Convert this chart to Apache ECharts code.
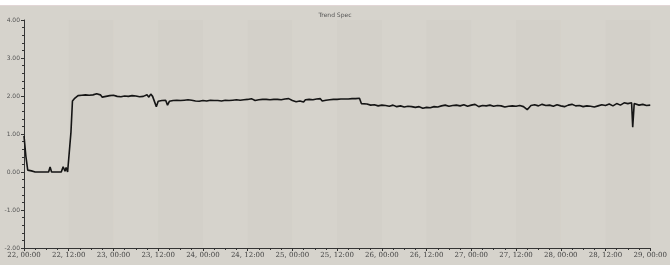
<!DOCTYPE html>
<html>
<head>
<meta charset="utf-8">
<script src="https://cdn.jsdelivr.net/npm/echarts@6/dist/echarts.min.js"></script>
<style>
    html, body {margin: 0; padding: 0; background: #ffffff;}
    #trend {width: 670px; height: 265px;}
</style>
</head>
<body>
<div id="trend"></div>
<script>
// hours counted from 22, 00:00
let DAY0 = 22;
let yTicks = [-2, -1, 0, 1, 2, 3, 4];

// [hour, value]
let trend = [
    [0, 0.95], [0.5, 0.42], [1, 0.05], [2, 0.03], [3, 0.0], [4, 0.0], [5, 0.0], [6, 0.0],
    [6.6, 0.0], [7, 0.13], [7.4, 0.0], [8, 0.0], [9, 0.0], [10, 0.0], [10.5, 0.14],
    [11, 0.02], [11.3, 0.12], [11.7, 0.0], [12, 0.0], [12.3, 0.7], [12.6, 1.05],
    [13, 1.87], [13.5, 1.93], [14, 1.95], [14.5, 2.01], [15, 1.98], [15.5, 2.02], [16, 1.99],
    [16.5, 2.03], [17, 2.0], [17.5, 2.02], [18, 1.99], [18.5, 2.03], [19, 2.02], [19.5, 2.06],
    [20, 2.01], [20.5, 2.03], [21, 1.97], [21.5, 2.02], [22, 1.99], [22.5, 1.95], [23, 2.01],
    [23.5, 2.06], [24, 2.02], [24.5, 2.05], [25, 1.99], [25.5, 2.04], [26, 1.98], [26.5, 2.03],
    [27, 2.0], [27.5, 2.04], [28, 1.99], [28.5, 1.96], [29, 2.01], [29.5, 1.97], [30, 2.0],
    [30.5, 1.95], [31, 1.98], [31.5, 1.94], [32, 1.99], [32.5, 1.95], [33, 2.03], [33.5, 1.97],
    [34, 2.05], [34.5, 1.99], [35, 2.03], [35.5, 1.72], [36, 1.86], [36.5, 1.83], [37, 1.88],
    [37.5, 1.84], [38, 1.89], [38.5, 1.76], [39, 1.86], [39.5, 1.84], [40, 1.88], [40.5, 1.85],
    [41, 1.89], [41.5, 1.86], [42, 1.88], [42.5, 1.85], [43, 1.89], [43.5, 1.87], [44, 1.9],
    [44.5, 1.86], [45, 1.89], [45.5, 1.91], [46, 1.87], [46.5, 1.9], [47, 1.86], [47.5, 1.91],
    [48, 1.88], [48.5, 1.9], [49, 1.87], [49.5, 1.92], [50, 1.89], [50.5, 1.92], [51, 1.88],
    [51.5, 1.91], [52, 1.88], [52.5, 1.92], [53, 1.87], [53.5, 1.91], [54, 1.89], [54.5, 1.93],
    [55, 1.88], [55.5, 1.91], [56, 1.89], [56.5, 1.94], [57, 1.9], [57.5, 1.92], [58, 1.89],
    [58.5, 1.93], [59, 1.9], [59.5, 1.94], [60, 1.91], [60.5, 1.89], [61, 1.93], [61.5, 1.9],
    [62, 1.88], [62.5, 1.92], [63, 1.9], [63.5, 1.94], [64, 1.91], [64.5, 1.95], [65, 1.91],
    [65.5, 1.93], [66, 1.9], [66.5, 1.93], [67, 1.91], [67.5, 1.94], [68, 1.91], [68.5, 1.93],
    [69, 1.9], [69.5, 1.94], [70, 1.92], [70.5, 1.95], [71, 1.93], [71.5, 1.96], [72, 1.88],
    [72.5, 1.91], [73, 1.85], [73.5, 1.9], [74, 1.87], [74.5, 1.92], [75, 1.84], [75.5, 1.9],
    [76, 1.88], [76.5, 1.91], [77, 1.88], [77.5, 1.9], [78, 1.86], [78.5, 1.92], [79, 1.89],
    [79.5, 1.93], [80, 1.87], [80.5, 1.92], [81, 1.89], [81.5, 1.94], [82, 1.9], [82.5, 1.93],
    [83, 1.91], [83.5, 1.95], [84, 1.91], [84.5, 1.94], [85, 1.92], [85.5, 1.95], [86, 1.92],
    [86.5, 1.95], [87, 1.92], [87.5, 1.94], [88, 1.93], [88.5, 1.96], [89, 1.93], [89.5, 1.95],
    [90, 1.94], [90.5, 1.8], [91, 1.77], [92, 1.79], [93, 1.76], [94, 1.77],
    [95, 1.74], [96, 1.76], [97, 1.75], [98, 1.73], [99, 1.76], [100, 1.72], [101, 1.74],
    [102, 1.71], [103, 1.73], [104, 1.72], [105, 1.7], [106, 1.72], [107, 1.68], [108, 1.7],
    [109, 1.69], [110, 1.72], [111, 1.71], [112, 1.74], [113, 1.76], [114, 1.73], [115, 1.75],
    [116, 1.76], [117, 1.74], [118, 1.77], [119, 1.73], [120, 1.76], [121, 1.78], [122, 1.72],
    [123, 1.75], [124, 1.74], [125, 1.76], [126, 1.73], [127, 1.75], [128, 1.74], [129, 1.71],
    [130, 1.73], [131, 1.74], [132, 1.73], [133, 1.75], [134, 1.72], [135, 1.64], [136, 1.75],
    [137, 1.77], [138, 1.74], [139, 1.78], [140, 1.75], [141, 1.76], [142, 1.73], [143, 1.77],
    [144, 1.74], [145, 1.72], [146, 1.76], [147, 1.78], [148, 1.74], [149, 1.75], [150, 1.72],
    [151, 1.74], [152, 1.73], [153, 1.71], [154, 1.74], [155, 1.77], [156, 1.75], [157, 1.79],
    [158, 1.74], [159, 1.8], [160, 1.76], [161, 1.82], [162, 1.8], [163, 1.82], [163.3, 1.18],
    [163.7, 1.8], [164, 1.79], [165, 1.76], [166, 1.78], [167, 1.75], [168, 1.76]
];

function hourLabel(h) {
    let day = DAY0 + Math.floor(h / 24);
    let hr = h % 24;
    return day + ', ' + (hr < 10 ? '0' + hr : hr) + ':00';
}

let myChart = echarts.init(document.getElementById('trend'));

let option = {
    backgroundColor: '#d6d3cc',
    animation: false,
    title: {
        text: 'Trend Spec',
        left: 'center',
        top: 7,
        textStyle: {fontSize: 6, fontWeight: 'normal', color: '#555', fontFamily: 'DejaVu Sans'}
    },
    graphic: [
        {type: 'rect', shape: {x: 0, y: 0, width: 670, height: 5}, style: {fill: '#ffffff'}},
        {type: 'rect', shape: {x: 0, y: 5, width: 670, height: 1}, style: {fill: '#e2d6d6'}}
    ],
    grid: {left: 24, right: 7, top: 20, bottom: 17},
    xAxis: {
        type: 'value',
        min: 0,
        max: 168,
        interval: 12,
        axisLine: {onZero: false, lineStyle: {color: '#333', width: 1}},
        axisTick: {length: 3, lineStyle: {color: '#333'}},
        minorTick: {show: true, splitNumber: 4, length: 2, lineStyle: {color: '#333'}},
        axisLabel: {
            fontSize: 7, color: '#444', margin: 4, fontFamily: 'DejaVu Serif',
            formatter: function (v) { return hourLabel(v); }
        },
        splitLine: {show: false},
        splitArea: {show: true, areaStyle: {color: ['#d6d3cc', '#d3d0c9']}}
    },
    yAxis: {
        type: 'value',
        min: yTicks[0],
        max: yTicks[yTicks.length - 1],
        interval: 1,
        axisLine: {show: true, lineStyle: {color: '#333', width: 1}},
        axisTick: {show: true, length: 3, lineStyle: {color: '#333'}},
        minorTick: {show: true, splitNumber: 5, length: 2, lineStyle: {color: '#333'}},
        axisLabel: {
            fontSize: 6, color: '#555', margin: 4, fontFamily: 'DejaVu Sans',
            formatter: function (v) { return v.toFixed(2); }
        },
        splitLine: {show: false}
    },
    series: [
        {
            name: 'trend',
            type: 'line',
            symbol: 'none',
            data: trend,
            lineStyle: {color: '#151515', width: 1.6},
            itemStyle: {color: '#151515'}
        }
    ]
};

myChart.setOption(option);
</script>
</body>
</html>
